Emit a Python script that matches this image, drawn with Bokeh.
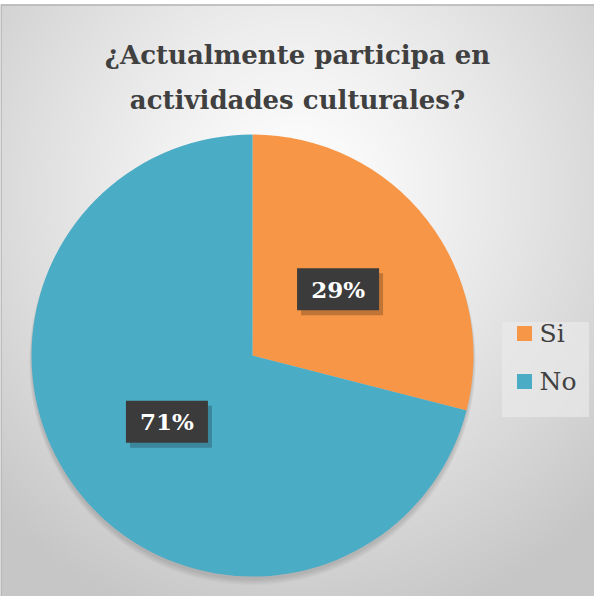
import numpy as np
from bokeh.plotting import figure
from bokeh.models import ColumnDataSource
from bokeh.core.properties import value
from bokeh.embed import file_html
from bokeh.resources import INLINE

# ---- data ----
title_lines = ["¿Actualmente participa en", "actividades culturales?"]
categories = ["Si", "No"]
percents = [29, 71]
colors = ["#F79646", "#4BACC6"]

SERIF = value("DejaVu Serif")

# ---- layout (screen-pixel coordinates, y measured from the page top) ----
W, H = 594, 596
PAGE_H = 612
def sy(y):
    return PAGE_H - y

p = figure(width=W, height=H, x_range=(8, 8 + W), y_range=(sy(8 + H), sy(8)),
           output_backend="svg", toolbar_location=None, min_border=0)
p.axis.visible = False
p.grid.visible = False
p.outline_line_color = None
p.background_fill_color = "white"
p.border_fill_color = "white"

# background radial gradient
res = 2
gw, gh = W // res, (H - 4) // res
xs = 8 + (np.arange(gw) + 0.5) * res
ys_screen = 12 + (np.arange(gh) + 0.5) * res
X, Ys = np.meshgrid(xs, ys_screen)
d = np.sqrt(((X - 305) / 1.0) ** 2 + ((Ys - 200) / 1.05) ** 2)
t = np.clip(d / 430.0, 0, 1) ** 1.2
c = (255 * (1 - t) + 198 * t).astype(np.uint8)
img = np.zeros((gh, gw), dtype=np.uint32)
view = img.view(dtype=np.uint8).reshape((gh, gw, 4))
view[..., 0] = c
view[..., 1] = c
view[..., 2] = c
view[..., 3] = 255
img = img[::-1]  # row 0 at bottom
p.image_rgba(image=[img], x=8, y=sy(12 + gh * res), dw=gw * res, dh=gh * res)

# frame border
p.line(x=[8.5, 8.5, 602], y=[sy(612), sy(12.5), sy(12.5)], line_color="#b4b4b4", line_width=1.5)

# ---- pie ----
cx, cy, R = 260, 363, 221
# soft shadow, mostly below
for k in range(1, 7):
    p.circle(x=cx, y=sy(cy + 2 + k * 0.7), radius=R + k * 0.4, fill_color="black",
             fill_alpha=0.025, line_color=None)

fr = np.array(percents, dtype=float) / sum(percents)
cum = np.concatenate([[0], np.cumsum(fr)])
start = np.pi / 2 - 2 * np.pi * cum[:-1]
end = np.pi / 2 - 2 * np.pi * cum[1:]
src = ColumnDataSource(dict(start=start, end=end, color=colors, cat=categories))
p.wedge(x=cx, y=sy(cy), radius=R, start_angle="start", end_angle="end",
        direction="clock", fill_color="color", line_color=None, source=src)

# data labels
mid = 2 * np.pi * (cum[:-1] + cum[1:]) / 2
lr = 0.49 * R
lx = cx + lr * np.sin(mid)
ly = cy - lr * np.cos(mid)
labels = [f"{v}%" for v in percents]
lsrc = ColumnDataSource(dict(x=lx, y=[sy(v) for v in ly], sx=lx + 4, sy_=[sy(v + 5) for v in ly], text=labels))
p.rect(x="sx", y="sy_", width=82, height=42, fill_color="black", fill_alpha=0.22,
       line_color=None, source=lsrc)
p.rect(x="x", y="y", width=82, height=42, fill_color="#3b3b3b", line_color=None, source=lsrc)
p.text(x="x", y="y", text="text", text_align="center", text_baseline="middle",
       text_color="white", text_font=SERIF, text_font_style="bold",
       text_font_size="23px", source=lsrc)

# ---- title ----
p.text(x=[305] * len(title_lines), y=[sy(62 + 45 * i) for i in range(len(title_lines))],
       text=title_lines, text_align="center", text_baseline="middle",
       text_color="#404040", text_font=SERIF, text_font_style="bold",
       text_font_size="26px")

# ---- legend ----
p.rect(x=553, y=sy(377), width=87, height=95, fill_color="#e9e9e9", fill_alpha=0.7, line_color=None)
leg_y = [sy(341 + 48 * i) for i in range(len(categories))]
p.rect(x=[532] * len(categories), y=leg_y, width=15, height=15, fill_color=colors, line_color=None)
p.text(x=[547] * len(categories), y=leg_y, text=categories, text_align="left",
       text_baseline="middle", text_color="#404040", text_font=SERIF,
       text_font_size="25px")

open("out.html", "w").write(file_html(p, INLINE))
